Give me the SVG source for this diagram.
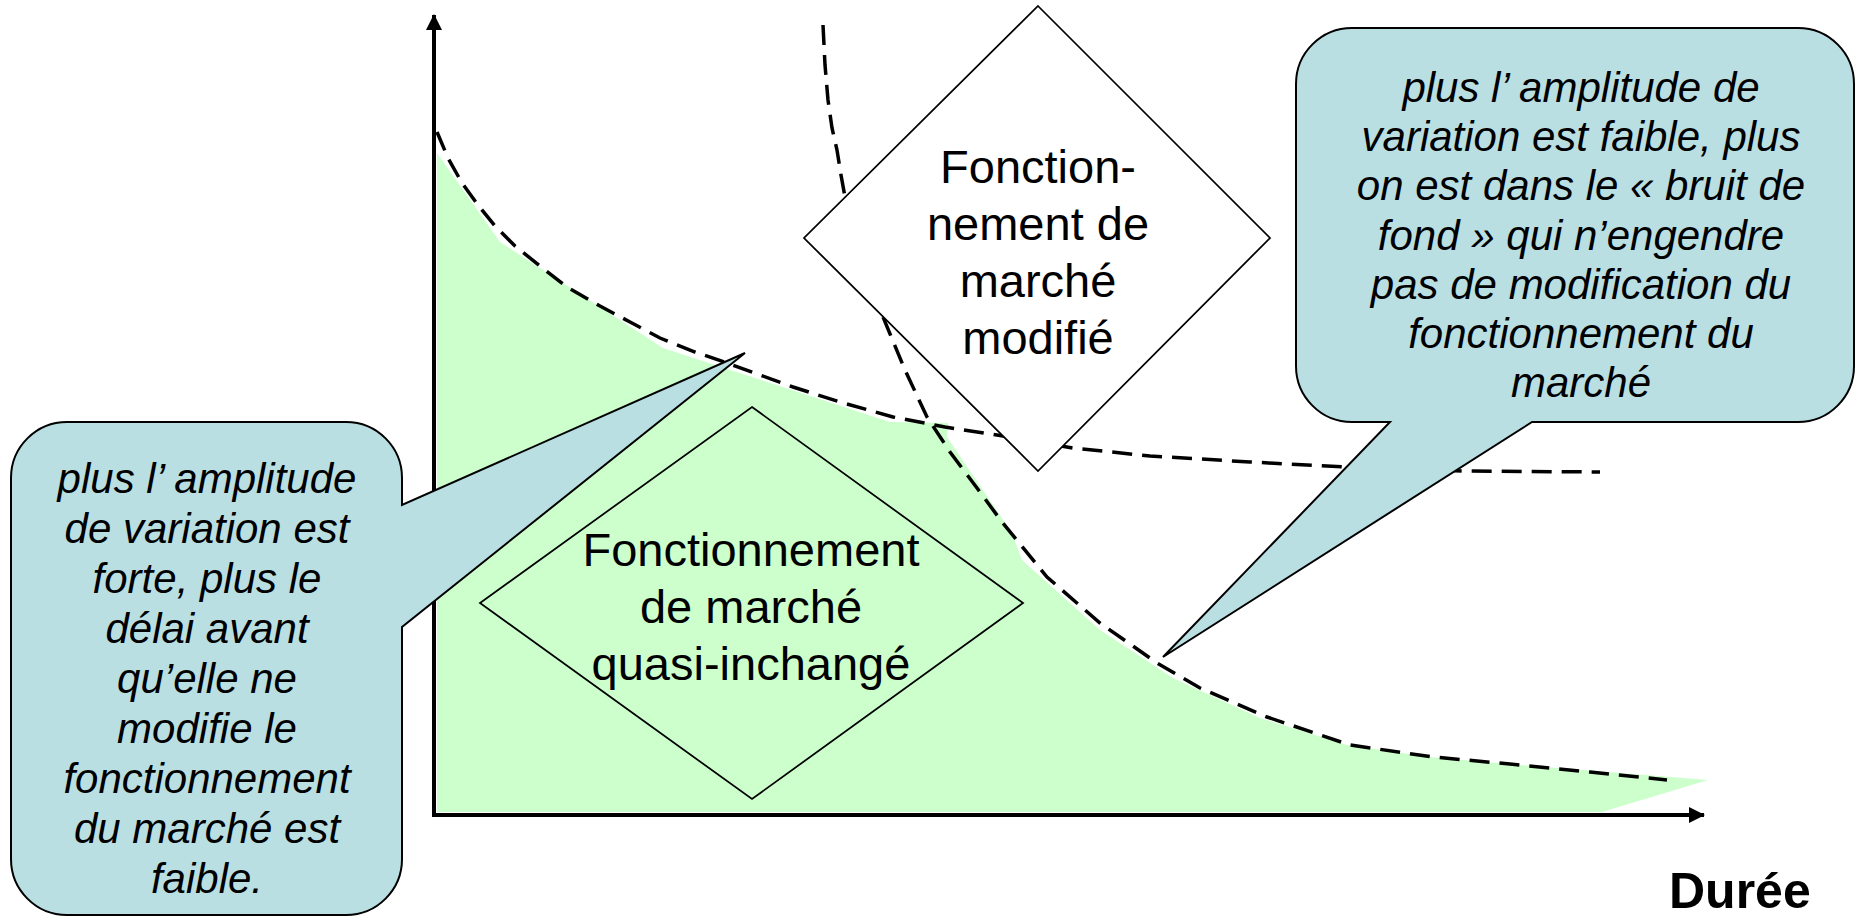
<svg xmlns="http://www.w3.org/2000/svg" width="1857" height="916" viewBox="0 0 1857 916">
<defs>
<style>
.area{fill:#CCFFCC;stroke:none}
.axis{fill:none;stroke:#000;stroke-width:4}
.dash{fill:none;stroke:#000;stroke-width:3.5;stroke-dasharray:20 10}
.diamond{stroke:#000;stroke-width:1.75}
.bubble{fill:#B9DFE3;stroke:#000;stroke-width:2;stroke-linejoin:miter}
.lbl{font-family:"Liberation Sans",Arial,sans-serif;font-size:47px;fill:#000;text-anchor:middle}
.note{font-family:"Liberation Sans",Arial,sans-serif;font-size:42px;font-style:italic;fill:#000;text-anchor:middle}
.axlbl{font-family:"Liberation Sans",Arial,sans-serif;font-size:50px;font-weight:bold;fill:#000}
</style>
<marker id="arrow" viewBox="0 0 16 16" refX="15" refY="8" markerUnits="userSpaceOnUse" markerWidth="16" markerHeight="16" orient="auto">
<path d="M0,0 L16,8 L0,16 Z" fill="#000"/>
</marker>
</defs>

<g id="zone-inchange">
<path class="area" d="M437,153 L500,242 L663,348 L890,422 L948,423 L947,437 L1012,533 L1022,560 L1100,630 L1173,678 L1260,718 L1347,745 L1430,757 L1520,765 L1708,780 L1602,812 L437,812 Z"/>
</g>

<g id="connectors">
<line class="axis" x1="434" y1="817" x2="434" y2="15" marker-end="url(#arrow)"/>
<line class="axis" x1="432" y1="815" x2="1704" y2="815" marker-end="url(#arrow)"/>
<polyline class="dash" points="437,132 448,158 462,183 478,205 495,226 515,246 540,266 567,287 600,306 630,322 660,338 695,352 727,363 760,375 793,387 840,402 893,417 945,427 997,435 1073,448 1150,456 1250,462 1347,467 1462,471 1600,472"/>
<polyline class="dash" points="823,25 825,65 828,100 832,128 837,150 841,175 845,197 855,240 868,280 883,317 905,370 927,417 950,452 977,488 1002,522 1047,577 1100,623 1157,663 1200,688 1267,717 1350,745 1433,757 1510,764 1590,772 1667,780"/>
</g>

<g id="node-quasi-inchange">
<polygon class="diamond" fill="none" points="752,407 1023,603 752,799 480,603"/>
<text class="lbl" x="751" y="566">Fonctionnement</text>
<text class="lbl" x="751" y="623">de marché</text>
<text class="lbl" x="751" y="680">quasi-inchangé</text>
</g>

<g id="node-modifie">
<polygon class="diamond" fill="#FFFFFF" points="1038,6 1270,238 1038,471 804,238"/>
<text class="lbl" x="1038" y="183">Fonction-</text>
<text class="lbl" x="1038" y="240">nement de</text>
<text class="lbl" x="1038" y="297">marché</text>
<text class="lbl" x="1038" y="354">modifié</text>
</g>

<g id="note-forte">
<path class="bubble" d="M67,422 H346 A56,56 0 0 1 402,478 V505 L745,353 L402,627 V859 A56,56 0 0 1 346,915 H67 A56,56 0 0 1 11,859 V478 A56,56 0 0 1 67,422 Z"/>
<text class="note" x="207" y="493">plus l’ amplitude</text>
<text class="note" x="207" y="543">de variation est</text>
<text class="note" x="207" y="593">forte, plus le</text>
<text class="note" x="207" y="643">délai avant</text>
<text class="note" x="207" y="693">qu’elle ne</text>
<text class="note" x="207" y="743">modifie le</text>
<text class="note" x="207" y="793">fonctionnement</text>
<text class="note" x="207" y="843">du marché est</text>
<text class="note" x="207" y="893">faible.</text>
</g>

<g id="note-faible">
<path class="bubble" d="M1352,28 H1798 A56,56 0 0 1 1854,84 V366 A56,56 0 0 1 1798,422 H1532 L1163,657 L1390,422 H1352 A56,56 0 0 1 1296,366 V84 A56,56 0 0 1 1352,28 Z"/>
<text class="note" x="1581" y="102">plus l’ amplitude de</text>
<text class="note" x="1581" y="151">variation est faible, plus</text>
<text class="note" x="1581" y="200">on est dans le « bruit de</text>
<text class="note" x="1581" y="250">fond » qui n’engendre</text>
<text class="note" x="1581" y="299">pas de modification du</text>
<text class="note" x="1581" y="348">fonctionnement du</text>
<text class="note" x="1581" y="397">marché</text>
</g>

<g id="label-duree">
<text class="axlbl" x="1669" y="908">Durée</text>
</g>
</svg>
